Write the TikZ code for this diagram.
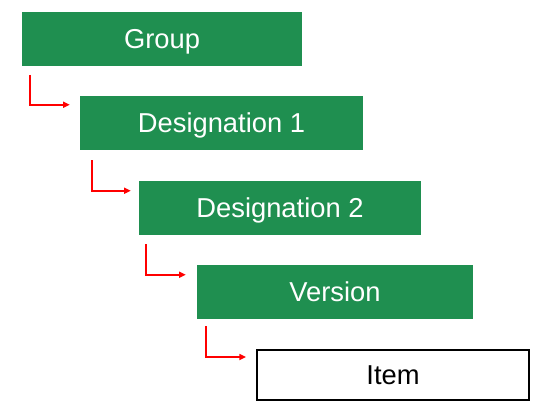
\documentclass[tikz,border=0pt]{standalone}
\usepackage{fontspec}
\setmainfont{Liberation Sans}
\usepackage{tikz}
\usetikzlibrary{positioning,calc,arrows.meta}
\definecolor{groupgreen}{RGB}{31,143,80}
\definecolor{linkred}{RGB}{255,0,0}

\begin{document}
\begin{tikzpicture}[x=0.75pt,y=-0.75pt,
                level node/.style={fill=groupgreen,text=white,inner sep=0pt,
                    minimum height=40.5pt,text height=14.6pt,text depth=0pt,
                    font=\fontsize{20.5}{24}\selectfont},
                leaf node/.style={draw=black,line width=1.5pt,fill=white,inner sep=0pt,
                    minimum height=37.5pt,text height=14.6pt,text depth=0pt,
                    font=\fontsize{20.5}{24}\selectfont},
                link/.style={linkred,line width=1.2pt,-{Triangle[length=5pt,width=4.5pt]}}]
\useasboundingbox (0,0) rectangle (559,419);
%Nodes
    \node[level node, minimum width=210pt] (G) at (162,38.5) {Group};
    \node[level node, minimum width=212.25pt] (D1) at (221.5,123) {Designation 1};
    \node[level node, minimum width=211.5pt] (D2) at (280,208) {Designation 2};
    \node[level node, minimum width=207pt] (V) at (335,292) {Version};
    \node[leaf node, minimum width=204pt] (I) at (393,375) {Item};

%Links
    \draw[link] ($(G.south west)+(8,9)$) |- ($(D1.north west)+(-10,9)$);
    \draw[link] ($(D1.south west)+(12,10)$) |- ($(D2.north west)+(-8,10)$);
    \draw[link] ($(D2.south west)+(7,9)$) |- ($(V.north west)+(-11,10)$);
    \draw[link] ($(V.south west)+(9,7)$) |- ($(I.north west)+(-10,8)$);
\end{tikzpicture}
\end{document}
